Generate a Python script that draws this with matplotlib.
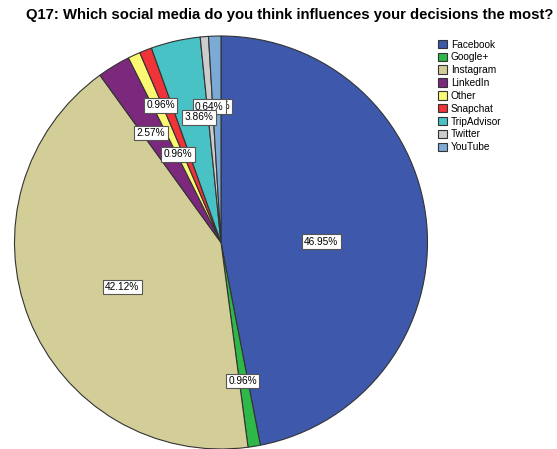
import numpy as np
import matplotlib
matplotlib.use("Agg")
import matplotlib.pyplot as plt

categories = ["Facebook", "Google+", "Instagram", "LinkedIn", "Other",
              "Snapchat", "TripAdvisor", "Twitter", "YouTube"]
counts = [146, 3, 131, 8, 3, 3, 12, 2, 3]
pct_labels = ["46.95%", "0.96%", "42.12%", "2.57%", "0.96%",
              "0.96%", "3.86%", "0.64%", "0.96%"]
colors = ["#3E58AC", "#2EB848", "#D3CE97", "#7C287D", "#FBF873",
          "#EF3338", "#48C2C5", "#CCCCCC", "#7AAAD5"]
# label placement (fraction of radius, clockwise angle offset in degrees)
label_r = [0.485, 0.68, 0.525, 0.63, 0.475, 0.725, 0.615, 0.66, 0.66]
label_off = [5.0, 0.3, -2.6, -1.3, -1.1, -2.3, 2.7, -0.3, -0.4]

plt.rcParams['font.family'] = ['Liberation Sans', 'DejaVu Sans']

W, H = 557, 449
fig = plt.figure(figsize=(W / 100, H / 100), dpi=100)
cx, cy, R = 221, 242.5, 206.5
ax = fig.add_axes([(cx - R) / W, (H - cy - R) / H, 2 * R / W, 2 * R / H])
ax.axis('off')

wedges, _ = ax.pie(counts, colors=colors, startangle=90, counterclock=False,
                   radius=1.0, center=(0, 0), frame=False,
                   wedgeprops=dict(edgecolor="#333333", linewidth=0.8))
ax.set_aspect('auto')
ax.set_xlim(-1, 1)
ax.set_ylim(-1, 1)

order = list(range(len(wedges)))[::-1]
for z, i in enumerate(order):
    w = wedges[i]
    mid = np.deg2rad((w.theta1 + w.theta2) / 2 - label_off[i])
    x = label_r[i] * np.cos(mid)
    y = label_r[i] * np.sin(mid)
    ax.text(x, y, pct_labels[i], ha='center', va='center', fontsize=7.3,
            color='black', zorder=10 + z,
            bbox=dict(boxstyle='square,pad=0.22', fc='white', ec='#555555', lw=0.8))

fig.text(26 / W, 1 - 15 / H, "Q17: Which social media do you think influences your decisions the most?",
         ha='left', va='center', fontsize=10.7, fontweight='bold')

leg = fig.legend(wedges, categories, loc='upper left',
                 bbox_to_anchor=(438 / W, 1 - 39.5 / H), frameon=False,
                 fontsize=7.3, handlelength=0.9, handleheight=0.9,
                 handletextpad=0.35, labelspacing=0.28, borderaxespad=0,
                 borderpad=0)

fig.savefig("out.png", dpi=100)
